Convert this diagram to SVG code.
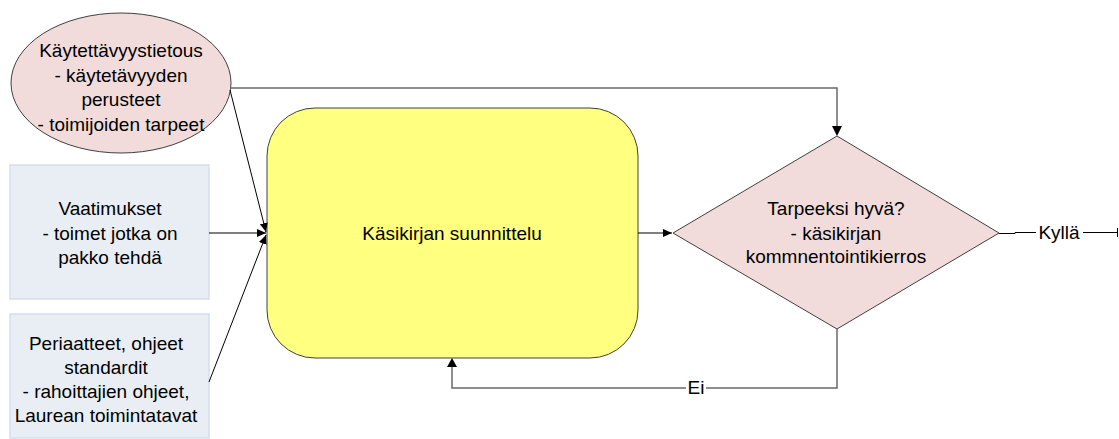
<svg xmlns="http://www.w3.org/2000/svg" width="1119" height="439" viewBox="0 0 1119 439">
<style>
text{font-family:"Liberation Sans",Arial,sans-serif;font-size:19px;fill:#000;text-anchor:middle}
.c{fill:none;stroke:#000;stroke-width:1}
.g{fill:none;stroke:#6a6a6a;stroke-width:1.5}
.box{fill:#e9eef5;stroke:#d3deeb;stroke-width:1.5}
</style>
<defs>
<marker id="a" markerWidth="10" markerHeight="10" refX="9" refY="5" orient="auto" markerUnits="userSpaceOnUse">
<path d="M0,1 L9,5 L0,9 z" fill="#000"/>
</marker>
</defs>
<g id="n-kaytettavyys">
<ellipse cx="121" cy="83" rx="110" ry="70" fill="#f2dcdb" stroke="#404040" stroke-width="1"/>
<text x="121" y="57">Käytettävyystietous</text>
<text x="121" y="82">- käytetävyyden</text>
<text x="121" y="106">perusteet</text>
<text x="121" y="131">- toimijoiden tarpeet</text>
</g>
<g id="n-vaatimukset">
<rect class="box" x="10" y="165" width="199" height="134"/>
<text x="110" y="215">Vaatimukset</text>
<text x="110" y="240">- toimet jotka on</text>
<text x="110" y="264">pakko tehdä</text>
</g>
<g id="n-periaatteet">
<rect class="box" x="10" y="314" width="199" height="124"/>
<text x="106" y="350">Periaatteet, ohjeet</text>
<text x="106" y="374">standardit</text>
<text x="106" y="398">- rahoittajien ohjeet,</text>
<text x="106" y="422">Laurean toimintatavat</text>
</g>
<g id="n-suunnittelu">
<rect x="267" y="108" width="371" height="250" rx="48" ry="48" fill="#ffff80" stroke="#404040" stroke-width="1"/>
<text x="452" y="240">Käsikirjan suunnittelu</text>
</g>
<g id="n-tarpeeksi">
<polygon points="837,136 999,233 837,329 673,233" fill="#f2dcdb" stroke="#404040" stroke-width="1"/>
<text x="836" y="215">Tarpeeksi hyvä?</text>
<text x="836" y="240">- käsikirjan</text>
<text x="836" y="263">kommnentointikierros</text>
</g>
<g id="connectors">
<polyline class="g" points="230,88 837,88 837,128"/>
<path d="M832,126 L837,136 L842,126 z" fill="#000"/>
<line class="c" x1="230" y1="90" x2="266" y2="232" marker-end="url(#a)"/>
<line class="c" x1="209" y1="233" x2="266" y2="233" marker-end="url(#a)"/>
<line class="c" x1="209" y1="382" x2="266" y2="235" marker-end="url(#a)"/>
<line class="c" x1="638" y1="233" x2="672" y2="233" marker-end="url(#a)"/>
<polyline class="g" points="837,329 837,388 452,388 452,366"/>
<path d="M447,367 L452,358 L457,367 z" fill="#000"/>
<rect x="686" y="378" width="20" height="20" fill="#fff"/>
<text x="696" y="394">Ei</text>
<polyline class="c" points="999,233.5 1015,233.5 1015,232.5 1036,232.5"/>
<line class="c" x1="1083" y1="232.5" x2="1118" y2="232.5"/>
<line class="c" x1="1117.5" y1="228" x2="1117.5" y2="237"/>
<text x="1059" y="239">Kyllä</text>
</g>
</svg>
